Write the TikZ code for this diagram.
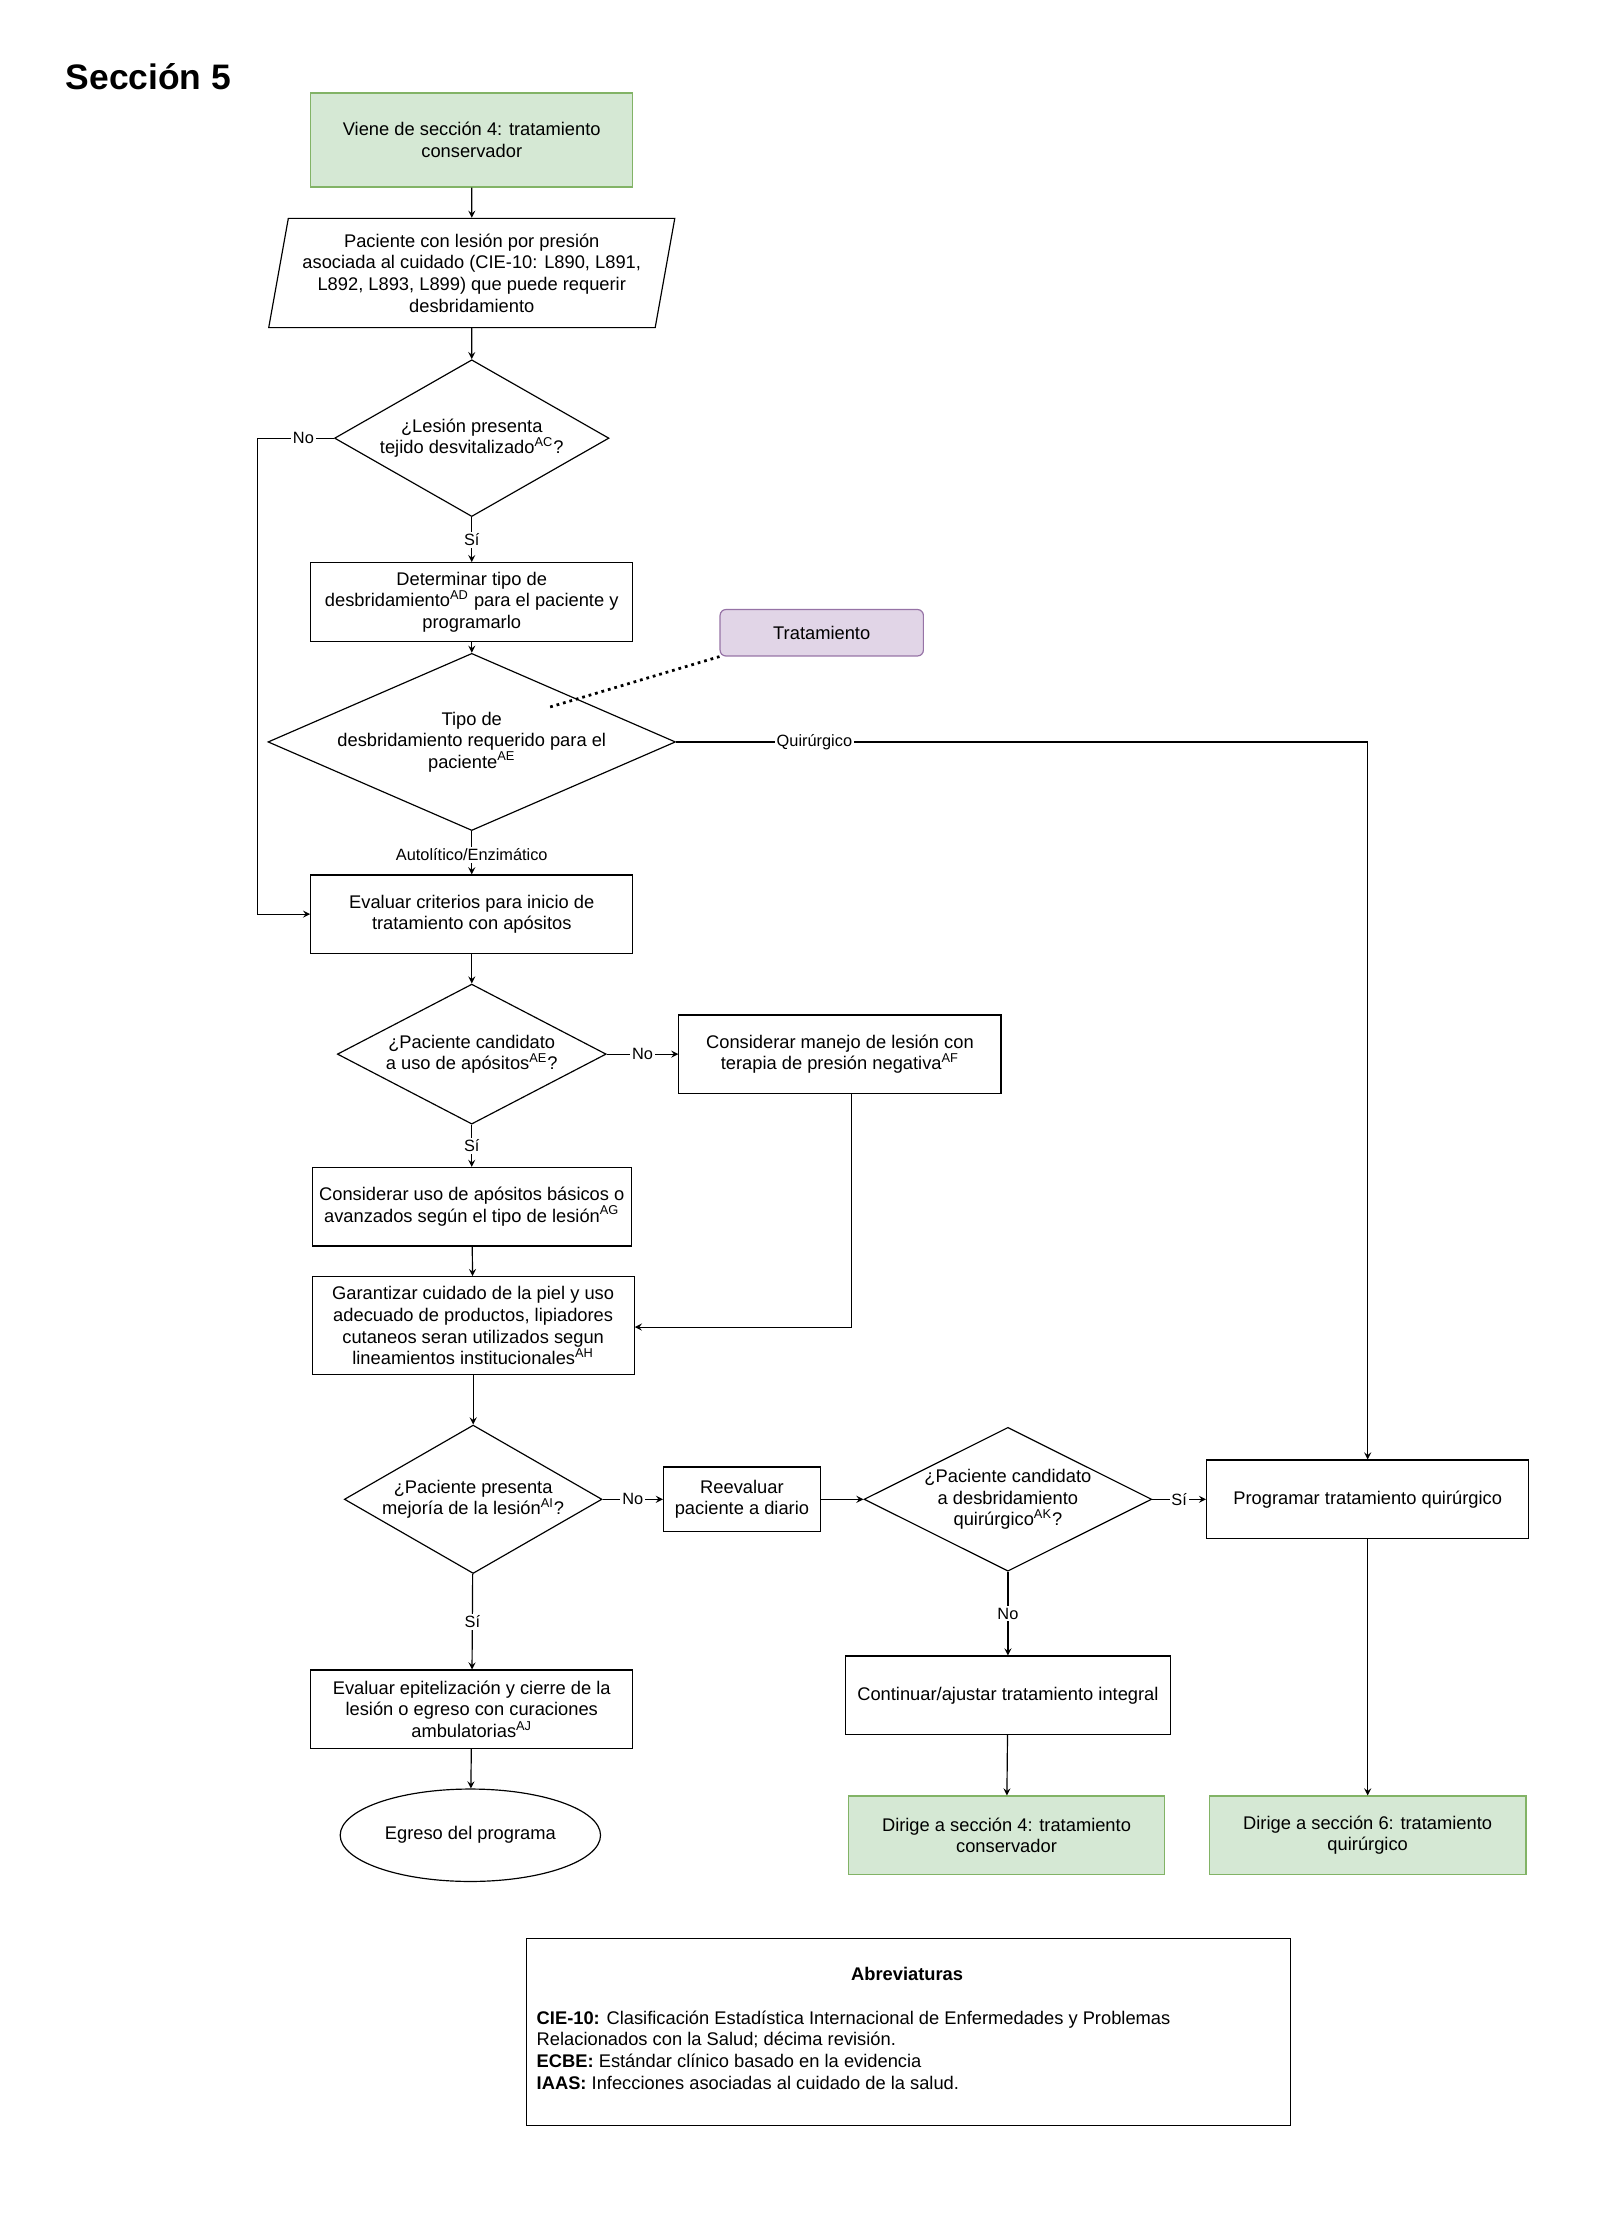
\documentclass[tikz,border=0pt]{standalone}
\usepackage{fontspec}
\setmainfont{Liberation Sans}
\usetikzlibrary{shapes.geometric,positioning}
\definecolor{verdef}{HTML}{D5E8D4}
\definecolor{verdel}{HTML}{82B366}
\definecolor{moradof}{HTML}{E1D5E7}
\definecolor{moradol}{HTML}{9673A6}
\begin{document}
\begin{tikzpicture}[x=0.025cm,y=-0.025cm, line width=0.6pt, >=stealth,
    every node/.style={font=\fontsize{9.3}{11}\selectfont},
    caja/.style={rectangle,draw,align=center,minimum height=1.4cm,minimum width=5.75cm,inner sep=1pt},
    verde/.style={caja,fill=verdef,draw=verdel},
    rombo/.style={diamond,draw,align=center,aspect=1.8,inner sep=0pt},
    etiq/.style={fill=white,inner sep=1pt,font=\fontsize{8.3}{9.5}\selectfont}]
\useasboundingbox (0,0) rectangle (1143,1593);

\node[font=\bfseries\fontsize{18}{21}\selectfont] (tit) at (106,55) {Sección 5};

\node[verde] (v4) at (337,100) [minimum height=1.68cm] {Viene de sección 4: tratamiento\\conservador};
\node[trapezium,trapezium left angle=76,trapezium right angle=104,trapezium stretches body,draw,align=center,
      minimum height=1.95cm,minimum width=7.25cm,inner sep=0pt] (pac) at (337,195)
      {Paciente con lesión por presión\\asociada al cuidado (CIE-10: L890, L891,\\L892, L893, L899) que puede requerir\\desbridamiento};
\node[rombo,minimum width=4.9cm,minimum height=2.8cm] (d1) at (337,313) {¿Lesión presenta\\tejido desvitalizado\textsuperscript{AC}?};
\node[caja] (det) at (337,430) {Determinar tipo de\\desbridamiento\textsuperscript{AD} para el paciente y\\programarlo};
\node[caja,rounded corners=3pt,fill=moradof,draw=moradol,minimum width=3.63cm,minimum height=0.83cm] (trat) at (587,452) {Tratamiento};
\node[rombo,minimum width=5.75cm,minimum height=2.5cm,aspect=2.3] (d2) at (337,530) {Tipo de\\desbridamiento requerido para el\\paciente\textsuperscript{AE}};
\node[caja] (eval) at (337,653) {Evaluar criterios para inicio de\\tratamiento con apósitos};
\node[rombo,minimum width=4.8cm,minimum height=2.5cm,aspect=1.9] (d3) at (337,753) {¿Paciente candidato\\a uso de apósitos\textsuperscript{AE}?};
\node[caja] (negp) at (600,753) {Considerar manejo de lesión con\\terapia de presión negativa\textsuperscript{AF}};
\node[caja,minimum width=5.7cm] (cons) at (337,862) {Considerar uso de apósitos básicos o\\avanzados según el tipo de lesión\textsuperscript{AG}};
\node[caja,minimum height=1.75cm] (gar) at (338,947) {Garantizar cuidado de la piel y uso\\adecuado de productos, lipiadores\\cutaneos seran utilizados segun\\lineamientos institucionales\textsuperscript{AH}};
\node[rombo,minimum width=4.6cm,minimum height=2.65cm,aspect=1.7] (d4) at (338,1071) {¿Paciente presenta\\mejoría de la lesión\textsuperscript{AI}?};
\node[caja,minimum width=2.8cm,minimum height=1.15cm] (reev) at (530,1071) {Reevaluar\\paciente a diario};
\node[rombo,minimum width=5.05cm,minimum height=2.5cm,aspect=2] (d5) at (720,1071) {¿Paciente candidato\\a desbridamiento\\quirúrgico\textsuperscript{AK}?};
\node[caja] (prog) at (977,1071) {Programar tratamiento quirúrgico};
\node[caja,minimum width=5.8cm] (cont) at (720,1211) {Continuar/ajustar tratamiento integral};
\node[caja] (evep) at (337,1221) {Evaluar epitelización y cierre de la\\lesión o egreso con curaciones\\ambulatorias\textsuperscript{AJ}};
\node[ellipse,draw,minimum width=4.2cm,minimum height=1.65cm] (egr) at (336,1311) {Egreso del programa};
\node[verde,minimum width=5.65cm] (s4) at (719,1311) {Dirige a sección 4: tratamiento\\conservador};
\node[verde,minimum width=5.65cm] (s6) at (977,1311) {Dirige a sección 6: tratamiento\\quirúrgico};

\node[draw,minimum width=13.65cm,minimum height=3.33cm] (abr) at (649,1451.5) {};
\node[font=\bfseries\fontsize{9.3}{11}\selectfont] (abrt) at (648,1410) {Abreviaturas};
\node[anchor=north west,align=left,inner sep=0pt] (abrx) at (383,1436)
  {\textbf{CIE-10:} Clasificación Estadística Internacional de Enfermedades y Problemas\\Relacionados con la Salud; décima revisión.\\
   \textbf{ECBE:} Estándar clínico basado en la evidencia\\
   \textbf{IAAS:} Infecciones asociadas al cuidado de la salud.};

\coordinate (c1) at (184,313);
\coordinate (c2) at (184,653);
\coordinate (c3) at (977,530);
\coordinate (c4) at (608,948);

\draw[->] (v4) -- (pac);
\draw[->] (pac) -- (d1);
\draw[->] (d1) -- node[etiq] {Sí} (det);
\draw[->] (d1.west) -- node[etiq,pos=0.4] {No} (c1) -- (c2) -- (eval.west);
\draw[->] (det) -- (d2);
\draw[dotted,line width=1.4pt] (393,505) -- (trat.south west);
\draw[->] (d2) -- node[etiq,pos=0.55] {Autolítico/Enzimático} (eval);
\draw[->] (d2.east) -- node[etiq,pos=0.2] {Quirúrgico} (c3) -- (prog.north);
\draw[->] (eval) -- (d3);
\draw[->] (d3.east) -- node[etiq] {No} (negp.west);
\draw[->] (d3) -- node[etiq] {Sí} (cons);
\draw[->] (cons) -- (gar);
\draw[->] (negp.south -| c4) -- (c4) -- (gar.east |- c4);
\draw[->] (gar) -- (d4);
\draw[->] (d4.east) -- node[etiq] {No} (reev.west);
\draw[->] (reev) -- (d5);
\draw[->] (d5.east) -- node[etiq] {Sí} (prog.west);
\draw[->] (d5) -- node[etiq] {No} (cont);
\draw[->] (d4) -- node[etiq] {Sí} (evep);
\draw[->] (evep) -- (egr);
\draw[->] (cont) -- (s4);
\draw[->] (prog) -- (s6);
\end{tikzpicture}
\end{document}
